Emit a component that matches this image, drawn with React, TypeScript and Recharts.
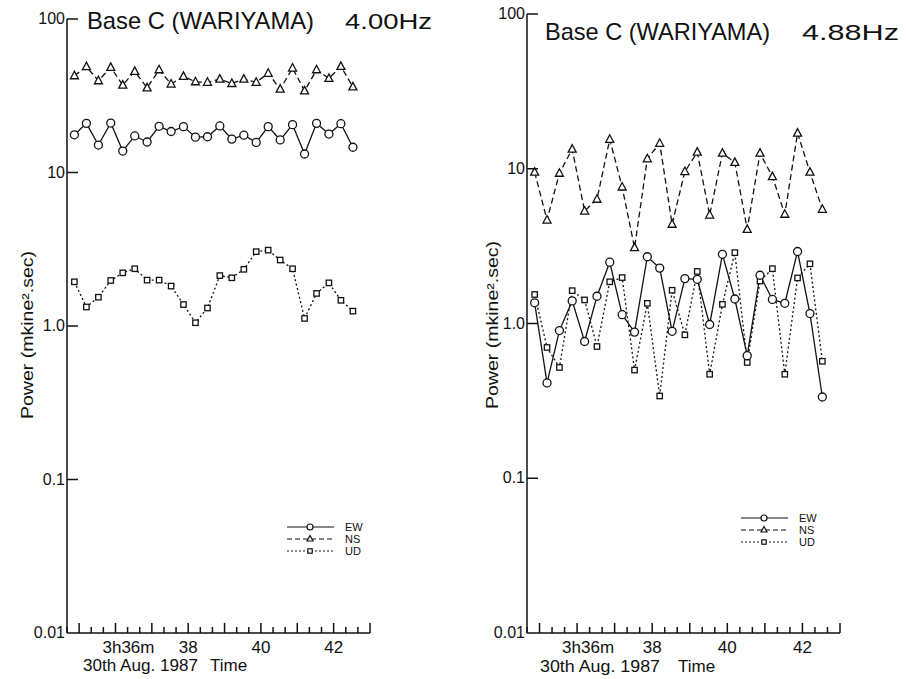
import { LineChart, Line, XAxis, YAxis } from "recharts";

// sample times (minutes after 3h), one reading every 20 s
const times = [
  34.87, 35.2, 35.53, 35.87, 36.2, 36.53, 36.87, 37.2, 37.53, 37.87, 38.2, 38.53,
  38.87, 39.2, 39.53, 39.87, 40.2, 40.53, 40.87, 41.2, 41.53, 41.87, 42.2, 42.53,
];

// 4.00 Hz panel
const ewLeft = [17.6, 20.9, 15.1, 21.0, 13.8, 17.3, 15.8, 20.0, 18.5, 19.9, 17.0, 17.1, 20.1, 16.5, 17.5, 15.7, 19.9, 16.3, 20.5, 13.2, 20.9, 17.8, 20.8, 14.6];
const nsLeft = [42.7, 48.9, 39.6, 48.4, 37.1, 45.6, 35.6, 46.7, 37.7, 42.3, 39.0, 38.7, 40.6, 38.0, 40.6, 38.7, 44.3, 34.9, 47.9, 34.0, 46.7, 41.0, 49.1, 36.1];
const udLeft = [1.94, 1.33, 1.54, 1.98, 2.22, 2.36, 1.99, 1.99, 1.82, 1.38, 1.05, 1.31, 2.13, 2.06, 2.34, 3.05, 3.12, 2.69, 2.36, 1.12, 1.63, 1.91, 1.47, 1.25];

// 4.88 Hz panel
const ewRight = [1.36, 0.413, 0.9, 1.4, 0.765, 1.5, 2.49, 1.14, 0.88, 2.7, 2.28, 0.89, 1.95, 1.93, 0.985, 2.8, 1.44, 0.62, 2.05, 1.43, 1.35, 2.92, 1.16, 0.335];
const nsRight = [9.5, 4.66, 9.35, 13.4, 5.33, 6.35, 15.5, 7.62, 3.09, 11.6, 14.6, 4.38, 9.59, 12.8, 5.02, 12.6, 11.0, 4.06, 12.6, 8.9, 5.08, 17.0, 9.5, 5.47];
const udRight = [1.54, 0.7, 0.52, 1.63, 1.42, 0.71, 1.86, 1.98, 0.5, 1.35, 0.34, 1.64, 0.845, 2.17, 0.47, 1.33, 2.87, 0.56, 1.88, 2.26, 0.47, 1.97, 2.43, 0.57];

const yTicks = [0.01, 0.1, 1, 10, 100];
const yTickLabels = ["0.01", "0.1", "1.0", "10", "100"];
const xLabelMinutes = [36, 38, 40, 42];
const xTickLabels = ["3h36m", "38", "40", "42"];

// small ticks every 20 s from 34m40s to 43m
const xTicks = Array.from({ length: 26 }, (_, i) => 34 + 2 / 3 + i / 3);

const FONT = "'Liberation Sans', Arial, sans-serif";
const INK = "#111";

const leftRows = times.map((t, i) => ({ t, ew: ewLeft[i], ns: nsLeft[i], ud: udLeft[i] }));
const rightRows = times.map((t, i) => ({ t, ew: ewRight[i], ns: nsRight[i], ud: udRight[i] }));

const circleDot = (p: any) => (
  <circle key={`c${p.index}`} cx={p.cx} cy={p.cy} r={4} fill="#fff" stroke={INK} strokeWidth={1.3} />
);
const triDot = (p: any) => (
  <polygon
    key={`t${p.index}`}
    points={`${p.cx},${p.cy - 4.5} ${p.cx - 4},${p.cy + 3} ${p.cx + 4},${p.cy + 3}`}
    fill="#fff"
    stroke={INK}
    strokeWidth={1.3}
  />
);
const squareDot = (p: any) => (
  <rect key={`s${p.index}`} x={p.cx - 2.7} y={p.cy - 2.7} width={5.4} height={5.4} fill="#fff" stroke={INK} strokeWidth={1.3} />
);

const YTick = ({ x, y, payload }: any) => {
  const i = yTicks.findIndex((v) => Math.abs(v - payload.value) < payload.value * 0.01);
  return (
    <g>
      {payload.value > 0.011 && <line x1={x} y1={y} x2={x + 11} y2={y} stroke={INK} strokeWidth={1.5} />}
      <text x={x - 2} y={y + 5} textAnchor="end" fontSize={16} fontFamily={FONT} fill={INK}>
        {yTickLabels[i]}
      </text>
    </g>
  );
};

const XTick = ({ x, y, payload, firstDx }: any) => {
  const v = payload.value;
  const whole = Math.abs(v - Math.round(v)) < 0.01;
  const li = whole ? xLabelMinutes.indexOf(Math.round(v)) : -1;
  return (
    <g>
      <line x1={x} y1={y} x2={x} y2={y - (whole ? 10 : 6)} stroke={INK} strokeWidth={1.5} />
      {li >= 0 && (
        <text x={x + (li === 0 ? firstDx : 0)} y={y + 20} textAnchor="middle" fontSize={17} fontFamily={FONT} fill={INK}>
          {xTickLabels[li]}
        </text>
      )}
    </g>
  );
};

function Panel({ rows, left, width, top, yAxisWidth, firstDx }: any) {
  return (
    <div style={{ position: "absolute", left, top: 0 }}>
      <LineChart width={width} height={679} data={rows} margin={{ top, right: 30, bottom: 0, left: 0 }}>
        <XAxis
          dataKey="t"
          type="number"
          domain={[34 + 2 / 3, 43]}
          ticks={xTicks}
          interval={0}
          height={46}
          tickSize={0}
          tickMargin={0}
          axisLine={{ stroke: INK, strokeWidth: 1.5 }}
          tickLine={false}
          tick={(p: any) => <XTick {...p} firstDx={firstDx} />}
          allowDataOverflow
        />
        <YAxis
          type="number"
          scale="log"
          domain={[0.01, 100]}
          ticks={yTicks}
          interval={0}
          width={yAxisWidth}
          tickSize={0}
          tickMargin={0}
          axisLine={{ stroke: INK, strokeWidth: 1.5 }}
          tickLine={false}
          tick={(p: any) => <YTick {...p} />}
          allowDataOverflow
        />
        <Line dataKey="ud" stroke={INK} strokeWidth={1.3} strokeDasharray="2 2.5" dot={squareDot} isAnimationActive={false} />
        <Line dataKey="ns" stroke={INK} strokeWidth={1.3} strokeDasharray="6 3.5" dot={triDot} isAnimationActive={false} />
        <Line dataKey="ew" stroke={INK} strokeWidth={1.3} dot={circleDot} isAnimationActive={false} />
      </LineChart>
    </div>
  );
}

function LegendBox({ x, y }: { x: number; y: number }) {
  const rows = [
    { name: "EW", dash: undefined, mark: "c" },
    { name: "NS", dash: "5 3", mark: "t" },
    { name: "UD", dash: "2 2", mark: "s" },
  ];
  return (
    <g>
      {rows.map((r, i) => {
        const yy = y + i * 12;
        const mx = x + 23;
        return (
          <g key={r.name}>
            <line x1={x} y1={yy} x2={x + 47} y2={yy} stroke={INK} strokeWidth={1.2} strokeDasharray={r.dash} />
            {r.mark === "c" && <circle cx={mx} cy={yy} r={3} fill="#fff" stroke={INK} strokeWidth={1.2} />}
            {r.mark === "t" && (
              <polygon points={`${mx},${yy - 3.5} ${mx - 3},${yy + 2} ${mx + 3},${yy + 2}`} fill="#fff" stroke={INK} strokeWidth={1.2} />
            )}
            {r.mark === "s" && <rect x={mx - 2.2} y={yy - 2.2} width={4.4} height={4.4} fill="#fff" stroke={INK} strokeWidth={1.2} />}
            <text x={x + 58} y={yy + 4} fontSize={11} fontFamily={FONT} fill={INK}>
              {r.name}
            </text>
          </g>
        );
      })}
    </g>
  );
}

export default function App() {
  return (
    <div style={{ position: "absolute", left: 0, top: 0, width: 906, height: 679, background: "#fff", overflow: "hidden" }}>
      <Panel rows={leftRows} left={0} width={400} top={19} yAxisWidth={67} firstDx={13} />
      <Panel rows={rightRows} left={450} width={420} top={14} yAxisWidth={77} firstDx={11} />
      <svg width={906} height={679} style={{ position: "absolute", left: 0, top: 0, pointerEvents: "none" }}>
        <g fontFamily={FONT} fill={INK}>
          <text x={87} y={29} fontSize={24} textLength={227} lengthAdjust="spacingAndGlyphs">
            Base C (WARIYAMA)
          </text>
          <text x={345} y={29} fontSize={22} textLength={87} lengthAdjust="spacingAndGlyphs">
            4.00Hz
          </text>
          <text x={545} y={40} fontSize={24} textLength={225} lengthAdjust="spacingAndGlyphs">
            Base C (WARIYAMA)
          </text>
          <text x={802} y={40} fontSize={22} textLength={97} lengthAdjust="spacingAndGlyphs">
            4.88Hz
          </text>

          <text
            transform="translate(33,335) rotate(-90)"
            textAnchor="middle"
            fontSize={16}
            textLength={168}
            lengthAdjust="spacingAndGlyphs"
          >
            Power (mkine².sec)
          </text>
          <text
            transform="translate(498,325) rotate(-90)"
            textAnchor="middle"
            fontSize={16}
            textLength={168}
            lengthAdjust="spacingAndGlyphs"
          >
            Power (mkine².sec)
          </text>

          <text x={83} y={671} fontSize={17} textLength={115} lengthAdjust="spacingAndGlyphs">30th Aug. 1987</text>
          <text x={210} y={671} fontSize={17}>Time</text>
          <text x={540} y={672} fontSize={17} textLength={120} lengthAdjust="spacingAndGlyphs">30th Aug. 1987</text>
          <text x={678} y={672} fontSize={17}>Time</text>
        </g>
        <LegendBox x={287} y={527} />
        <LegendBox x={741} y={518} />
      </svg>
    </div>
  );
}
